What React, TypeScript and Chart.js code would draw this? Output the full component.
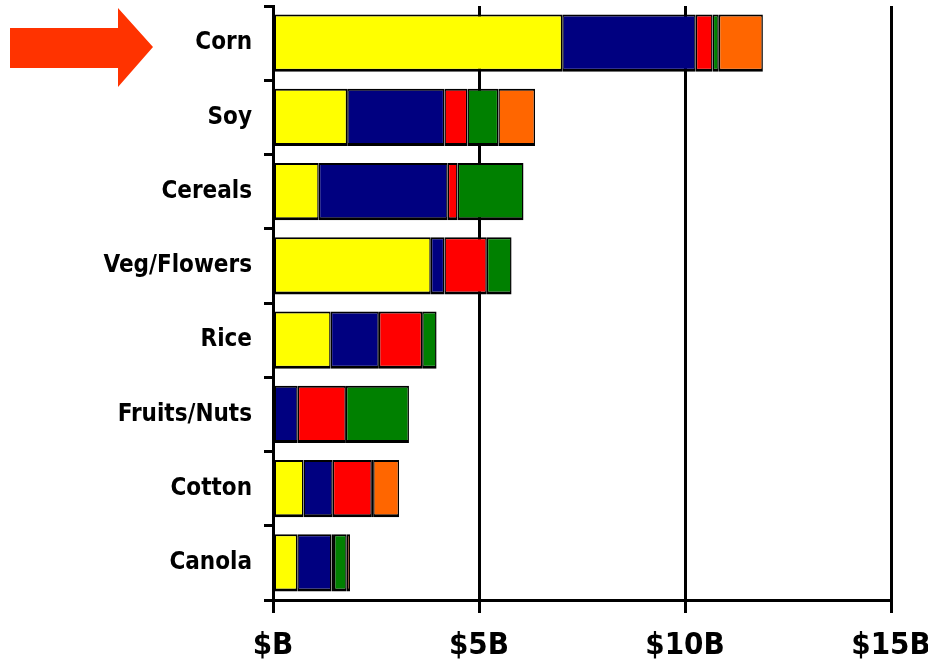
import React, { useEffect, useRef } from "react";
import { Chart, registerables } from "chart.js";
Chart.register(...registerables);

const categories = ["Corn", "Soy", "Cereals", "Veg/Flowers", "Rice", "Fruits/Nuts", "Cotton", "Canola"];
const yellowValues = [7.02, 1.8, 1.11, 3.83, 1.4, null, 0.74, 0.59];
const navyValues = [3.24, 2.36, 3.13, 0.33, 1.17, 0.6, 0.71, 0.83];
const redValues = [0.41, 0.56, 0.24, 1.03, 1.05, 1.17, 0.95, 0.06];
const greenValues = [0.15, 0.75, 1.6, 0.6, 0.35, 1.53, 0.03, 0.31];
const orangeValues = [1.07, 0.89, null, null, null, null, 0.63, 0.08];
const xTickValues = [0, 5, 10, 15];
const xTickLabels = ["$B", "$5B", "$10B", "$15B"];

const FONT = "'DejaVu Sans Condensed', 'Liberation Sans Narrow', 'Liberation Sans', Arial, sans-serif";

const arrowPlugin = {
  id: "arrow",
  afterDraw(chart: any) {
    const ctx = chart.ctx;
    ctx.save();
    ctx.fillStyle = "#FF3300";
    ctx.beginPath();
    ctx.moveTo(10, 28);
    ctx.lineTo(118, 28);
    ctx.lineTo(118, 8);
    ctx.lineTo(153, 47);
    ctx.lineTo(118, 87);
    ctx.lineTo(118, 68);
    ctx.lineTo(10, 68);
    ctx.closePath();
    ctx.fill();
    ctx.restore();
  },
};

export default function App() {
  const ref = useRef<HTMLCanvasElement>(null);
  useEffect(() => {
    document.body.style.margin = "0";
    const mk = (label: string, data: any[], color: string) => ({
      label,
      data,
      backgroundColor: color,
      borderColor: "#000000",
      borderWidth: { top: 2, bottom: 3, left: 1.5, right: 1.5 },
      borderSkipped: false,
      categoryPercentage: 1,
      barPercentage: 0.77,
    });
    const chart = new Chart(ref.current!, {
      type: "bar",
      data: {
        labels: categories,
        datasets: [
          mk("Yellow", yellowValues, "#FFFF00"),
          mk("Navy", navyValues, "#000080"),
          mk("Red", redValues, "#FF0000"),
          mk("Green", greenValues, "#008000"),
          mk("Orange", orangeValues, "#FF6600"),
        ],
      },
      options: {
        indexAxis: "y",
        responsive: false,
        animation: false,
        devicePixelRatio: 1,
        layout: { padding: { top: 6, right: 37, left: 0, bottom: 0 } },
        plugins: { legend: { display: false }, tooltip: { enabled: false } },
        scales: {
          x: {
            stacked: true,
            min: 0,
            max: 15,
            afterBuildTicks: (s: any) => {
              s.ticks = xTickValues.map((v) => ({ value: v }));
            },
            afterFit: (s: any) => {
              s.height = 64;
              s.paddingLeft = 0;
              s.paddingRight = 0;
            },
            grid: {
              color: "#000000",
              lineWidth: 3,
              drawTicks: true,
              tickLength: 13,
              tickColor: "#000000",
            },
            border: { display: true, color: "#000000", width: 3 },
            ticks: {
              autoSkip: false,
              maxRotation: 0,
              padding: 14,
              color: "#000000",
              font: { family: FONT, size: 31, weight: "bold" },
              callback: (v: any) => {
                const i = xTickValues.indexOf(Number(v));
                return i >= 0 ? xTickLabels[i] : "";
              },
            },
          },
          y: {
            stacked: true,
            afterFit: (s: any) => {
              s.width = 273;
              s.paddingTop = 0;
              s.paddingBottom = 0;
            },
            grid: {
              offset: true,
              drawOnChartArea: false,
              drawTicks: true,
              tickLength: 9,
              tickColor: "#000000",
              lineWidth: 3,
              color: "#000000",
            },
            border: { display: true, color: "#000000", width: 3 },
            ticks: {
              padding: 12,
              color: "#000000",
              font: { family: FONT, size: 24, weight: "bold" },
            },
          },
        },
      },
      plugins: [arrowPlugin],
    } as any);
    return () => chart.destroy();
  }, []);
  return (
    <div style={{ position: "absolute", left: 0, top: 0, width: 928, height: 664, background: "#fff" }}>
      <canvas ref={ref} width={928} height={664} />
    </div>
  );
}
